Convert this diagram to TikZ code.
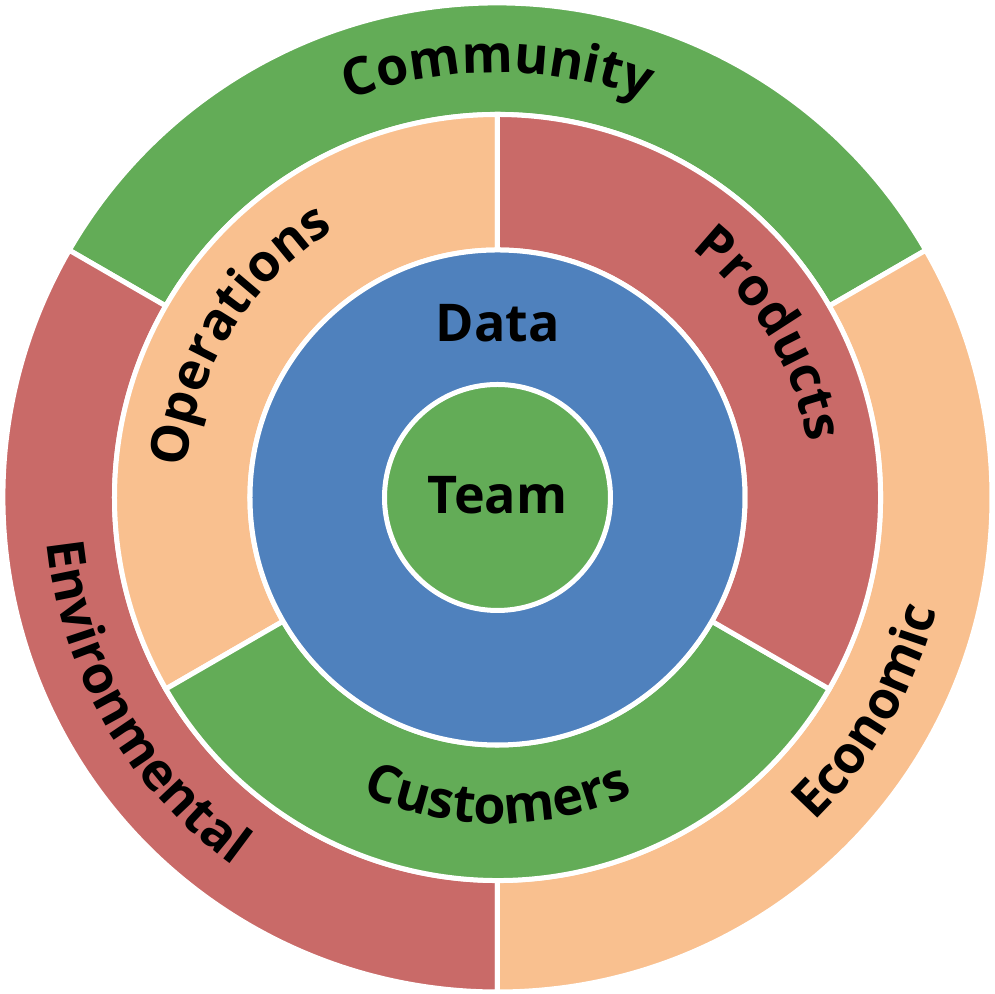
\documentclass[tikz,border=0pt]{standalone}
\usepackage{fontspec}
\setmainfont{Open Sans}
\usetikzlibrary{decorations.text}
\definecolor{ringgreen}{RGB}{99,172,87}
\definecolor{ringred}{RGB}{201,106,104}
\definecolor{ringpeach}{RGB}{249,192,143}
\definecolor{ringblue}{RGB}{79,129,189}
\newcommand{\lblfont}{\fontsize{14.8pt}{17pt}\selectfont\bfseries}

\begin{document}
\begin{tikzpicture}[
    seg/.style={fill=#1, draw=white, line width=0.05cm},
    arclabel/.style={decorate, decoration={text along path, text align=center, text={|\lblfont|#1}}}
  ]
  \useasboundingbox (-4.975,-4.965) rectangle (4.975,4.975);
  % outer ring
  \foreach \a/\b/\c in {30/150/ringgreen, 150/270/ringred, 270/390/ringpeach} {
    \draw[seg=\c] (\a:4.945) arc[start angle=\a, end angle=\b, radius=4.945]
      -- (\b:3.83) arc[start angle=\b, end angle=\a, radius=3.83] -- cycle;
  }
  % middle ring
  \foreach \a/\b/\c in {90/210/ringpeach, 210/330/ringgreen, 330/450/ringred} {
    \draw[seg=\c] (\a:3.83) arc[start angle=\a, end angle=\b, radius=3.83]
      -- (\b:2.475) arc[start angle=\b, end angle=\a, radius=2.475] -- cycle;
  }
  \draw[seg=ringblue] (0,0) circle (2.475);
  \draw[seg=ringgreen] (0,0) circle (1.13);
  % labels
  \path[arclabel=Community] (130:4.25) arc[start angle=130, end angle=50, radius=4.25];
  \path[arclabel=Environmental] (160:4.53) arc[start angle=160, end angle=260, radius=4.53];
  \path[arclabel=Economic] (290:4.53) arc[start angle=290, end angle=370, radius=4.53];
  \path[arclabel=Operations] (193:3.13) arc[start angle=193, end angle=103, radius=3.13];
  \path[arclabel=Products] (76:3.15) arc[start angle=76, end angle=-14, radius=3.15];
  \path[arclabel=Customers] (225:3.26) arc[start angle=225, end angle=315, radius=3.26];
  \node[font=\lblfont] (data) at (0,1.74) {Data};
  \node[font=\lblfont] (team) at (0,0.02) {Team};
\end{tikzpicture}
\end{document}
